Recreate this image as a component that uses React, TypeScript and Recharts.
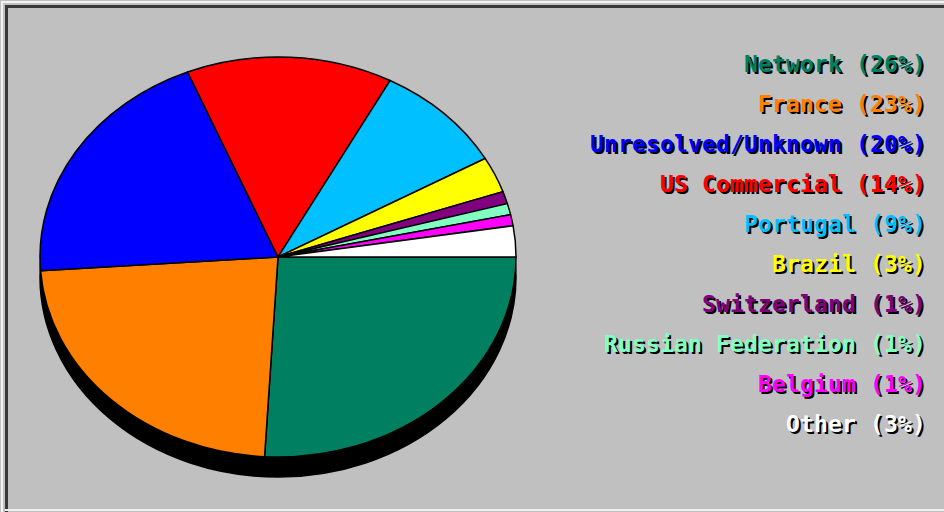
import React from 'react';
import { PieChart, Pie, Cell, Legend } from 'recharts';

// country breakdown, percent of hits
const countries = [
  'Network',
  'France',
  'Unresolved/Unknown',
  'US Commercial',
  'Portugal',
  'Brazil',
  'Switzerland',
  'Russian Federation',
  'Belgium',
  'Other',
];
const shares = [25.9, 23.0, 19.9, 14.0, 9.0, 2.9, 1.0, 0.9, 0.9, 2.5];
const sliceColors = [
  '#008060',
  '#ff8000',
  '#0000ff',
  '#ff0000',
  '#00c0ff',
  '#ffff00',
  '#800080',
  '#80ffc0',
  '#ff00ff',
  '#ffffff',
];
const shadowData = [{ name: 'edge', value: 1 }];

const W = 944;
const H = 512;
const SQUASH = 200 / 238; // pie is drawn as an ellipse

const pieData = countries.map((name, i) => ({ name, value: shares[i] }));

function EllipseSector(props: any) {
  const { cx, cy, outerRadius, startAngle, endAngle, fill, stroke } = props;
  const rx = outerRadius;
  const ry = outerRadius * SQUASH;
  const span = Math.abs(endAngle - startAngle);
  if (span >= 359.99) {
    return <ellipse cx={cx} cy={cy} rx={rx} ry={ry} fill={fill} stroke={stroke} strokeWidth={1.5} />;
  }
  const pt = (a: number) => [
    cx + rx * Math.cos((-a * Math.PI) / 180),
    cy + ry * Math.sin((-a * Math.PI) / 180),
  ];
  const [x1, y1] = pt(startAngle);
  const [x2, y2] = pt(endAngle);
  const large = span > 180 ? 1 : 0;
  const sweep = startAngle > endAngle ? 1 : 0;
  const d = `M${cx},${cy} L${x1},${y1} A${rx},${ry} 0 ${large} ${sweep} ${x2},${y2} Z`;
  return <path d={d} fill={fill} stroke={stroke} strokeWidth={1.5} strokeLinejoin="round" />;
}

function LegendList() {
  return (
    <div
      style={{
        fontFamily: "'DejaVu Sans Mono', monospace",
        fontWeight: 'bold',
        fontSize: 23,
        letterSpacing: 0.15,
        textAlign: 'right',
      }}
    >
      {countries.map((name, i) => (
        <div
          key={name}
          style={{
            height: 40,
            lineHeight: '40px',
            color: sliceColors[i],
            textShadow: '2px 2px 0 #000',
            whiteSpace: 'pre',
          }}
        >
          {`${name} (${Math.round(shares[i])}%)`}
        </div>
      ))}
    </div>
  );
}

export default function App() {
  return (
    <div style={{ position: 'relative', width: W, height: H, background: '#c0c0c0', overflow: 'hidden' }}>
      <style>{`body{margin:0}`}</style>
      {/* bevelled frame */}
      <div style={{ position: 'absolute', left: 1, top: 1, right: 0, height: 2, background: '#f4f4f4' }} />
      <div style={{ position: 'absolute', left: 1, top: 1, bottom: 0, width: 2, background: '#f4f4f4' }} />
      <div style={{ position: 'absolute', left: 5, top: 5, right: 0, height: 2.5, background: '#383838' }} />
      <div style={{ position: 'absolute', left: 5, top: 5, bottom: 0, width: 2.5, background: '#383838' }} />
      <div style={{ position: 'absolute', left: 5, bottom: 1, right: 0, height: 2, background: '#f0f0f0' }} />

      <div style={{ position: 'absolute', left: 0, top: 0 }}>
        <PieChart width={W} height={H} margin={{ top: 0, right: 0, bottom: 0, left: 0 }}>
          <Pie
            data={shadowData}
            dataKey="value"
            cx={278}
            cy={277}
            outerRadius={238}
            startAngle={0}
            endAngle={-360}
            fill="#000"
            stroke="#000"
            shape={EllipseSector}
            activeShape={EllipseSector}
            inactiveShape={EllipseSector}
            legendType="none"
            isAnimationActive={false}
          />
          <Pie
            data={pieData}
            dataKey="value"
            nameKey="name"
            cx={278}
            cy={257}
            outerRadius={238}
            startAngle={0}
            endAngle={-360}
            stroke="#000"
            shape={EllipseSector}
            activeShape={EllipseSector}
            inactiveShape={EllipseSector}
            isAnimationActive={false}
          >
            {pieData.map((d, i) => (
              <Cell key={d.name} fill={sliceColors[i]} />
            ))}
          </Pie>
          <Legend
            layout="vertical"
            align="right"
            verticalAlign="top"
            content={() => <LegendList />}
            wrapperStyle={{ top: 44, right: 18, left: 'auto', width: 600 }}
          />
        </PieChart>
      </div>
    </div>
  );
}
